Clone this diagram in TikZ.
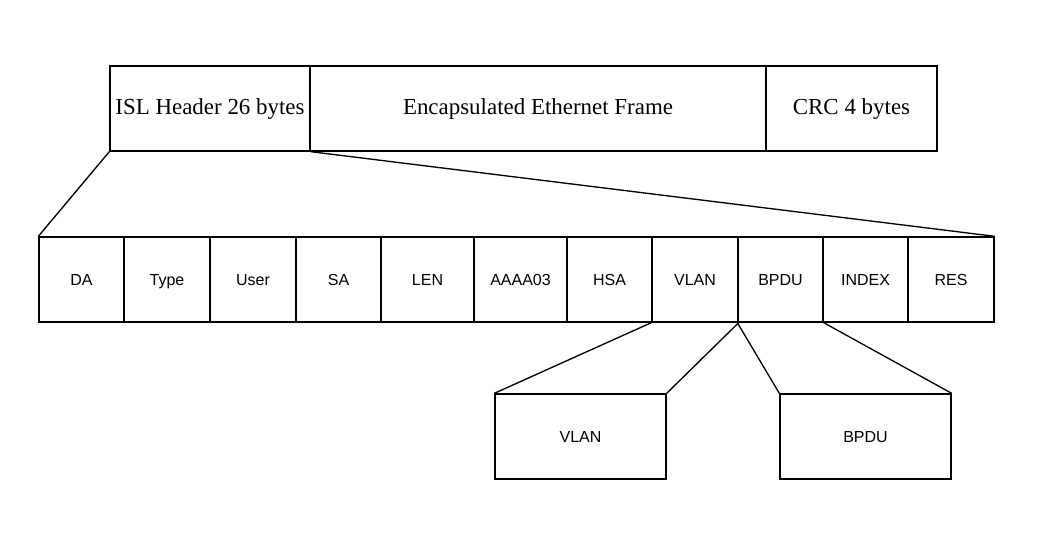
\documentclass[tikz,border=0pt]{standalone}
\usepackage{fontspec}
\setmainfont{Liberation Serif}
\setsansfont{Liberation Sans}
\usepackage{tikz}
\usetikzlibrary{positioning}

\begin{document}
\begin{tikzpicture}[
  x=0.75pt, y=-0.75pt,
  campo/.style={draw, line width=1pt, minimum height=63.75pt, inner sep=0pt,
    text height=0.88em, text depth=0pt},
  trama/.style={campo, font=\fontsize{17.2}{20}\selectfont},
  sub/.style={campo, font=\sffamily\fontsize{12}{14}\selectfont},
  enlace/.style={line width=1pt}
]
\useasboundingbox (0,0) rectangle (1060,538);
% ISL frame
\node[trama, minimum width={200*0.75pt}] (isl) at (210,108.5) {ISL Header 26 bytes};
\node[trama, minimum width={456*0.75pt}] (eth) at (538,108.5) {Encapsulated Ethernet Frame};
\node[trama, minimum width={171*0.75pt}] (crc) at (851.5,108.5) {CRC 4 bytes};
% header fields
\foreach \n/\a/\b/\t in {da/39/124/DA, type/124/210/Type, user/210/296/User,
    sa/296/381/SA, len/381/474/LEN, aaaa/474/567/AAAA03, hsa/567/652/HSA,
    vlan/652/738/VLAN, bpdu/738/823/BPDU, index/823/908/INDEX, res/908/994/RES}
  \node[sub, minimum width={(\b-\a)*0.75pt}] (\n) at ({(\a+\b)/2},279.5) {\t};
% detail boxes
\node[sub, minimum width={171*0.75pt}] (vlanx) at (580.5,436.5) {VLAN};
\node[sub, minimum width={171*0.75pt}] (bpdux) at (865.5,436.5) {BPDU};
% zoom lines
\draw[enlace] (isl.south west) -- (da.north west);
\draw[enlace] (isl.south east) -- (res.north east);
\draw[enlace] (vlan.south west) -- (vlanx.north west);
\draw[enlace] (vlan.south east) -- (vlanx.north east);
\draw[enlace] (bpdu.south west) -- (bpdux.north west);
\draw[enlace] (bpdu.south east) -- (bpdux.north east);
\end{tikzpicture}
\end{document}
